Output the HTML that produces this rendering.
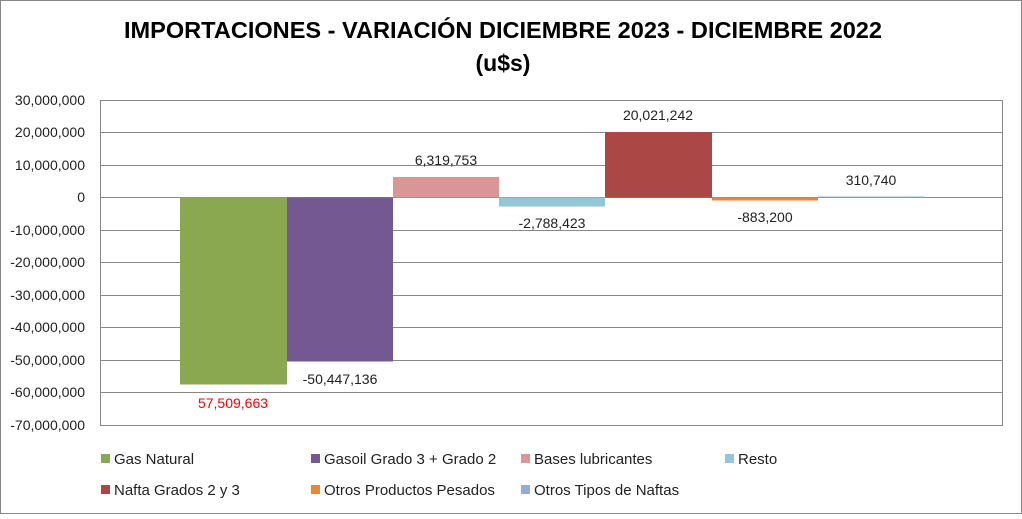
<!DOCTYPE html>
<html><head><meta charset="utf-8"><style>
body{margin:0;width:1022px;height:514px;overflow:hidden;background:#fff}
svg text{font-family:"Liberation Sans",sans-serif}
</style></head><body>
<svg width="1022" height="514" xmlns="http://www.w3.org/2000/svg">
<rect x="0.5" y="0.5" width="1021" height="513" fill="#fff" stroke="#888"/>
<text x="503" y="38" font-size="23" font-weight="bold" text-anchor="middle" fill="#000" textLength="758" lengthAdjust="spacingAndGlyphs">IMPORTACIONES - VARIACIÓN DICIEMBRE 2023 - DICIEMBRE 2022</text>
<text x="503" y="71" font-size="23" font-weight="bold" text-anchor="middle" fill="#000">(u$s)</text>
<g stroke="#888" stroke-width="1">
<line x1="100.5" x2="1002" y1="100.5" y2="100.5"/>
<line x1="100.5" x2="1002" y1="132.5" y2="132.5"/>
<line x1="100.5" x2="1002" y1="165.5" y2="165.5"/>
<line x1="100.5" x2="1002" y1="197.5" y2="197.5"/>
<line x1="100.5" x2="1002" y1="230.5" y2="230.5"/>
<line x1="100.5" x2="1002" y1="262.5" y2="262.5"/>
<line x1="100.5" x2="1002" y1="295.5" y2="295.5"/>
<line x1="100.5" x2="1002" y1="327.5" y2="327.5"/>
<line x1="100.5" x2="1002" y1="360.5" y2="360.5"/>
<line x1="100.5" x2="1002" y1="392.5" y2="392.5"/>
<line x1="100.5" x2="1002" y1="425.5" y2="425.5"/>
<line x1="100.5" x2="100.5" y1="100" y2="426"/>
<line x1="1002.5" x2="1002.5" y1="100" y2="426"/>
</g>
<g font-size="14" text-anchor="end" fill="#222">
<text x="85" y="105">30,000,000</text>
<text x="85" y="137">20,000,000</text>
<text x="85" y="170">10,000,000</text>
<text x="85" y="202">0</text>
<text x="85" y="235">-10,000,000</text>
<text x="85" y="267">-20,000,000</text>
<text x="85" y="300">-30,000,000</text>
<text x="85" y="332">-40,000,000</text>
<text x="85" y="365">-50,000,000</text>
<text x="85" y="397">-60,000,000</text>
<text x="85" y="430">-70,000,000</text>
</g>
<rect x="180" y="197.5" width="107" height="187" fill="#8aa84f"/>
<rect x="287" y="197.5" width="106" height="164" fill="#735891"/>
<rect x="393" y="177" width="106" height="20.5" fill="#d99694"/>
<rect x="499" y="197.5" width="106" height="9" fill="#93c6d6"/>
<rect x="605" y="132" width="107" height="65.5" fill="#ab4745"/>
<rect x="712" y="197.5" width="106" height="3" fill="#e6873c"/>
<rect x="818" y="196.5" width="106" height="1" fill="#95acd7"/>
<g font-size="14" text-anchor="middle" fill="#222">
<text x="233" y="408" fill="#ff0000">57,509,663</text>
<text x="340" y="384">-50,447,136</text>
<text x="446" y="165">6,319,753</text>
<text x="552" y="228">-2,788,423</text>
<text x="658" y="120">20,021,242</text>
<text x="765" y="222">-883,200</text>
<text x="871" y="185">310,740</text>
</g>
<g font-size="15" fill="#222">
<rect x="101" y="454" width="9" height="9" fill="#8aa84f"/><text x="114" y="464">Gas Natural</text>
<rect x="311" y="454" width="9" height="9" fill="#735891"/><text x="324" y="464">Gasoil Grado 3 + Grado 2</text>
<rect x="521" y="454" width="9" height="9" fill="#d99694"/><text x="534" y="464">Bases lubricantes</text>
<rect x="725" y="454" width="9" height="9" fill="#93c6d6"/><text x="738" y="464">Resto</text>
<rect x="101" y="485" width="9" height="9" fill="#ab4745"/><text x="114" y="495">Nafta Grados 2 y 3</text>
<rect x="311" y="485" width="9" height="9" fill="#e6873c"/><text x="324" y="495">Otros Productos Pesados</text>
<rect x="521" y="485" width="9" height="9" fill="#95acd7"/><text x="534" y="495">Otros Tipos de Naftas</text>
</g>
</svg>
</body></html>
